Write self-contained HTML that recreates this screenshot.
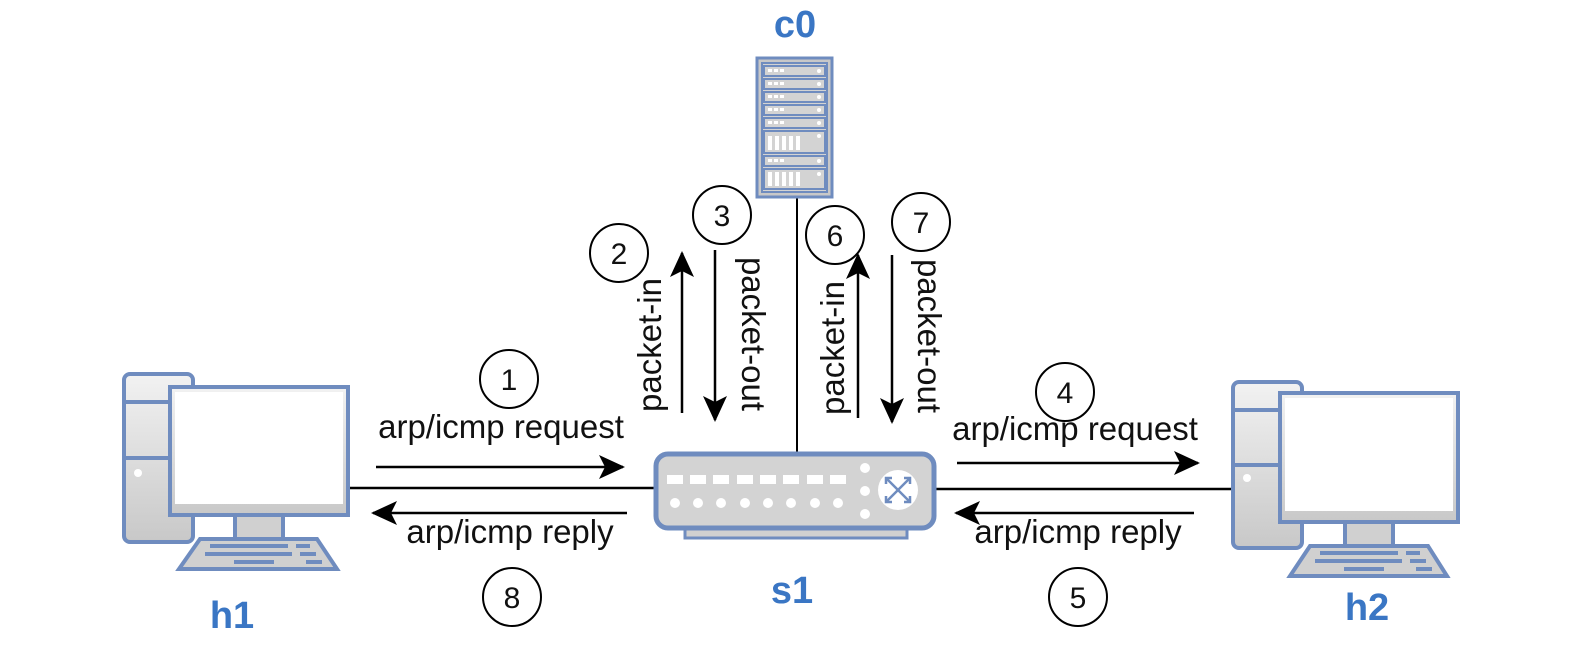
<!DOCTYPE html>
<html><head><meta charset="utf-8"><style>
html,body{margin:0;padding:0;background:#fff;}
svg{display:block;}
text{font-family:"Liberation Sans",sans-serif;}
.lbl{font-size:33px;fill:#111;}
.num{font-size:30px;fill:#111;text-anchor:middle;}
.blue{font-size:38px;font-weight:bold;fill:#3a76c4;text-anchor:middle;}
</style></head><body>
<svg width="1588" height="656" viewBox="0 0 1588 656" xmlns="http://www.w3.org/2000/svg">
<defs>
<linearGradient id="g" x1="0" y1="0" x2="0" y2="1"><stop offset="0" stop-color="#f2f2f2"/><stop offset="1" stop-color="#c8c8c8"/></linearGradient>
<marker id="ah2" markerWidth="26" markerHeight="24" refX="24" refY="12" orient="auto" markerUnits="userSpaceOnUse" viewBox="0 0 26 24">
<path d="M0,0 L26,12 L0,24 L6,12 Z" fill="#000"/></marker>
</defs>

<line x1="347" y1="488" x2="657" y2="488" stroke="#000" stroke-width="2.5"/>
<line x1="934" y1="489" x2="1233" y2="489" stroke="#000" stroke-width="2.5"/>
<line x1="797" y1="197" x2="797" y2="455" stroke="#000" stroke-width="2"/>

<g stroke="#6f8cbf" stroke-width="4">
<rect x="124" y="374" width="69" height="168" rx="6" fill="url(#g)"/>
<line x1="124" y1="402" x2="193" y2="402"/>
<line x1="124" y1="458" x2="193" y2="458"/>
<rect x="235" y="515" width="48" height="24" fill="#d0d0d0"/>
<path d="M200,539 L317,539 L337,569 L179,569 Z" fill="#d0d0d0"/>
<rect x="170" y="387" width="178" height="128" fill="url(#g)"/>
<rect x="175" y="392" width="168" height="112" fill="#fff" stroke="none"/>
</g>
<circle cx="138" cy="473" r="4" fill="#fff"/>
<g stroke="#6f8cbf" stroke-width="4"><line x1="210" y1="546" x2="288" y2="546"/><line x1="296" y1="546" x2="310" y2="546"/><line x1="205" y1="554" x2="292" y2="554"/><line x1="300" y1="554" x2="316" y2="554"/><line x1="234" y1="562" x2="274" y2="562"/><line x1="306" y1="562" x2="322" y2="562"/></g>

<g stroke="#6f8cbf" stroke-width="4">
<rect x="1233" y="382" width="69" height="166" rx="6" fill="url(#g)"/>
<line x1="1233" y1="410" x2="1302" y2="410"/>
<line x1="1233" y1="465" x2="1302" y2="465"/>
<rect x="1345" y="522" width="48" height="24" fill="#d0d0d0"/>
<path d="M1310,546 L1428,546 L1447,576 L1290,576 Z" fill="#d0d0d0"/>
<rect x="1280" y="393" width="178" height="129" fill="url(#g)"/>
<rect x="1285" y="398" width="168" height="113" fill="#fff" stroke="none"/>
</g>
<circle cx="1247" cy="478" r="4" fill="#fff"/>
<g stroke="#6f8cbf" stroke-width="4"><line x1="1320" y1="553" x2="1398" y2="553"/><line x1="1406" y1="553" x2="1420" y2="553"/><line x1="1315" y1="561" x2="1402" y2="561"/><line x1="1410" y1="561" x2="1426" y2="561"/><line x1="1344" y1="569" x2="1384" y2="569"/><line x1="1416" y1="569" x2="1432" y2="569"/></g>

<rect x="685" y="526" width="222" height="12" fill="#d0d0d0" stroke="#6f8cbf" stroke-width="3"/>
<rect x="656" y="454" width="278" height="74" rx="12" fill="#d3d3d3" stroke="#6f8cbf" stroke-width="5"/>
<g fill="#fff">
<rect x="667" y="475" width="16" height="9"/><rect x="690" y="475" width="16" height="9"/><rect x="713" y="475" width="16" height="9"/><rect x="737" y="475" width="16" height="9"/><rect x="760" y="475" width="16" height="9"/><rect x="783" y="475" width="16" height="9"/><rect x="807" y="475" width="16" height="9"/><rect x="830" y="475" width="16" height="9"/>
<circle cx="675" cy="503" r="5"/><circle cx="698" cy="503" r="5"/><circle cx="721" cy="503" r="5"/><circle cx="745" cy="503" r="5"/><circle cx="768" cy="503" r="5"/><circle cx="791" cy="503" r="5"/><circle cx="815" cy="503" r="5"/><circle cx="838" cy="503" r="5"/>
<circle cx="865" cy="468" r="5"/><circle cx="865" cy="491" r="5"/><circle cx="865" cy="514" r="5"/>
<circle cx="898" cy="490" r="20"/>
</g>
<g stroke="#6f8cbf" stroke-width="2.5" fill="none"><line x1="886" y1="478" x2="910" y2="502"/><line x1="910" y1="478" x2="886" y2="502"/>
<path d="M886,484 L886,478 L892,478"/><path d="M904,478 L910,478 L910,484"/><path d="M886,496 L886,502 L892,502"/><path d="M904,502 L910,502 L910,496"/></g>

<rect x="757" y="58" width="75" height="139" fill="#c8c8c8" stroke="#6f8cbf" stroke-width="3"/>
<rect x="762" y="63" width="65" height="129" fill="#d3d3d3" stroke="#6f8cbf" stroke-width="2"/>
<g fill="#d3d3d3" stroke="#6f8cbf" stroke-width="2">
<rect x="764" y="66" width="61" height="10"/><rect x="764" y="79" width="61" height="10"/><rect x="764" y="92" width="61" height="10"/><rect x="764" y="105" width="61" height="10"/><rect x="764" y="118" width="61" height="10"/><rect x="764" y="131" width="61" height="22"/><rect x="764" y="156" width="61" height="10"/><rect x="764" y="169" width="61" height="20"/>
</g>
<g fill="#fff"><rect x="768" y="69" width="4" height="3"/><rect x="774" y="69" width="4" height="3"/><rect x="780" y="69" width="4" height="3"/><rect x="768" y="82" width="4" height="3"/><rect x="774" y="82" width="4" height="3"/><rect x="780" y="82" width="4" height="3"/><rect x="768" y="95" width="4" height="3"/><rect x="774" y="95" width="4" height="3"/><rect x="780" y="95" width="4" height="3"/><rect x="768" y="108" width="4" height="3"/><rect x="774" y="108" width="4" height="3"/><rect x="780" y="108" width="4" height="3"/><rect x="768" y="121" width="4" height="3"/><rect x="774" y="121" width="4" height="3"/><rect x="780" y="121" width="4" height="3"/><rect x="768" y="159" width="4" height="3"/><rect x="774" y="159" width="4" height="3"/><rect x="780" y="159" width="4" height="3"/>
<rect x="768" y="136" width="4" height="14"/><rect x="775" y="136" width="4" height="14"/><rect x="782" y="136" width="4" height="14"/><rect x="789" y="136" width="4" height="14"/><rect x="796" y="136" width="4" height="14"/>
<rect x="768" y="172" width="4" height="14"/><rect x="775" y="172" width="4" height="14"/><rect x="782" y="172" width="4" height="14"/><rect x="789" y="172" width="4" height="14"/><rect x="796" y="172" width="4" height="14"/>
<circle cx="819" cy="71" r="2"/><circle cx="819" cy="84" r="2"/><circle cx="819" cy="97" r="2"/><circle cx="819" cy="110" r="2"/><circle cx="819" cy="123" r="2"/><circle cx="819" cy="136" r="2"/><circle cx="819" cy="161" r="2"/><circle cx="819" cy="174" r="2"/></g>

<g stroke="#000" stroke-width="2.5" marker-end="url(#ah2)">
<line x1="376" y1="467" x2="623" y2="467"/>
<line x1="627" y1="513" x2="373" y2="513"/>
<line x1="957" y1="463" x2="1198" y2="463"/>
<line x1="1194" y1="513" x2="956" y2="513"/>
<line x1="682" y1="413" x2="682" y2="253"/>
<line x1="715" y1="250" x2="715" y2="420"/>
<line x1="858" y1="418" x2="858" y2="255"/>
<line x1="892" y1="255" x2="892" y2="422"/>
</g>

<g fill="none" stroke="#000" stroke-width="2">
<circle cx="509" cy="379" r="29"/><circle cx="619" cy="253" r="29"/><circle cx="722" cy="215" r="29"/><circle cx="835" cy="235" r="29"/><circle cx="921" cy="222" r="29"/><circle cx="1065" cy="392" r="29"/><circle cx="1078" cy="597" r="29"/><circle cx="512" cy="597" r="29"/>
</g>
<text class="num" x="509" y="390">1</text>
<text class="num" x="619" y="264">2</text>
<text class="num" x="722" y="226">3</text>
<text class="num" x="835" y="246">6</text>
<text class="num" x="921" y="233">7</text>
<text class="num" x="1065" y="403">4</text>
<text class="num" x="1078" y="608">5</text>
<text class="num" x="512" y="608">8</text>

<text class="lbl" x="501" y="438" text-anchor="middle">arp/icmp request</text>
<text class="lbl" x="510" y="543" text-anchor="middle">arp/icmp reply</text>
<text class="lbl" x="1075" y="440" text-anchor="middle">arp/icmp request</text>
<text class="lbl" x="1078" y="543" text-anchor="middle">arp/icmp reply</text>
<text class="lbl" text-anchor="middle" transform="translate(661,345) rotate(-90)">packet-in</text>
<text class="lbl" text-anchor="middle" transform="translate(742,334) rotate(90)">packet-out</text>
<text class="lbl" text-anchor="middle" transform="translate(844,348) rotate(-90)">packet-in</text>
<text class="lbl" text-anchor="middle" transform="translate(918,336) rotate(90)">packet-out</text>

<text class="blue" x="795" y="37">c0</text>
<text class="blue" x="792" y="603">s1</text>
<text class="blue" x="232" y="628">h1</text>
<text class="blue" x="1367" y="620">h2</text>
</svg>
</body></html>
